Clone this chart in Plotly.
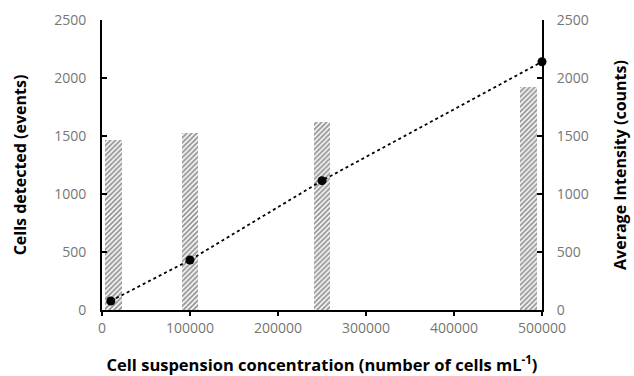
import plotly.graph_objects as go

# Data
conc_points = [10000, 100000, 250000, 500000]
cells_detected = [78, 431, 1115, 2140]
bar_positions = [13000, 100000, 250000, 485000]
avg_intensity = [1466, 1523, 1623, 1920]
y_ticks = [0, 500, 1000, 1500, 2000, 2500]
x_ticks = [0, 100000, 200000, 300000, 400000, 500000]

tick_font = dict(family="Open Sans", size=14, color="#767676")
title_font = dict(family="Open Sans", size=16, color="black")

fig = go.Figure()
fig.add_trace(go.Bar(
    x=bar_positions, y=avg_intensity, yaxis="y", width=19000,
    marker=dict(color="white", line=dict(width=0),
                pattern=dict(shape="/", fgcolor="#2e2e2e", bgcolor="white", size=3.5, solidity=0.55)),
    showlegend=False,
))
fig.add_trace(go.Scatter(
    x=conc_points, y=cells_detected, yaxis="y2", mode="lines+markers",
    line=dict(color="black", width=1.8, dash="dot"),
    marker=dict(color="black", size=9),
    cliponaxis=False, showlegend=False,
))

fig.update_layout(
    width=634, height=376,
    margin=dict(l=102, r=92, t=20, b=66),
    plot_bgcolor="white", paper_bgcolor="white",
    xaxis=dict(range=[0, 500000], tickvals=x_ticks, ticktext=[str(v) for v in x_ticks],
               showgrid=False, zeroline=False, showline=True, linecolor="black", linewidth=2,
               ticks="outside", ticklen=4, tickwidth=2, tickcolor="black",
               tickfont=tick_font, automargin=False,
               title=dict(text="<b>Cell suspension concentration (number of cells mL<sup>-1</sup>)</b>",
                          font=dict(family="Open Sans", size=16.5, color="black"), standoff=28)),
    yaxis=dict(range=[0, 2500], tickvals=y_ticks, showgrid=False, zeroline=False,
               showline=True, linecolor="black", linewidth=2,
               ticks="inside", ticklen=5, tickwidth=2, tickcolor="black",
               tickfont=tick_font, ticklabelstandoff=11, automargin=False,
               title=dict(text="<b>Cells detected (events)</b>", font=title_font, standoff=24)),
    yaxis2=dict(range=[0, 2500], tickvals=y_ticks, overlaying="y", side="right",
                showgrid=False, zeroline=False, showline=True, linecolor="black", linewidth=2,
                ticks="inside", ticklen=5, tickwidth=2, tickcolor="black",
                tickfont=tick_font, ticklabelstandoff=10, automargin=False,
                title=dict(text="<b>Average Intensity (counts)</b>", font=title_font, standoff=27)),
    bargap=0,
)

fig.write_html("out.html")
